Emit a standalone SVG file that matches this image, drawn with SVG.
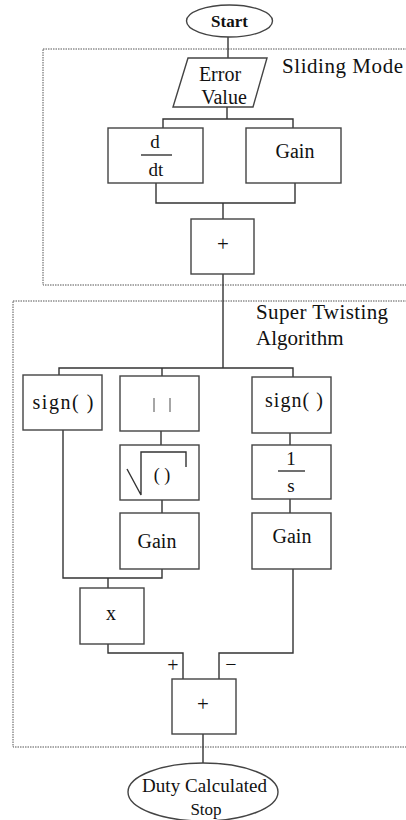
<svg xmlns="http://www.w3.org/2000/svg" width="406" height="820" viewBox="0 0 406 820">
<style>
.bg{fill:#fff}
.box{fill:#fff;stroke:#444;stroke-width:1.4}
.frame{fill:none;stroke:#555;stroke-width:1;stroke-dasharray:1.5 1}
.ln{fill:none;stroke:#333;stroke-width:1.4}
.t{font-family:"Liberation Serif","Times New Roman",serif;fill:#111;text-anchor:middle}
.tl{font-family:"Liberation Serif","Times New Roman",serif;fill:#111}
.g{fill:none;stroke:#777;stroke-width:1.3}
</style>
<rect class="bg" x="0" y="0" width="406" height="820"/>
<g id="frames">
<rect class="frame" x="43" y="49" width="380" height="236"/>
<rect class="frame" x="13" y="301" width="410" height="446"/>
<text class="tl" x="282" y="73" font-size="21" textLength="121">Sliding Mode</text>
<text class="tl" x="256" y="319" font-size="21" textLength="132">Super Twisting</text>
<text class="tl" x="256" y="345" font-size="21">Algorithm</text>
</g>
<g id="connectors">
<path class="ln" d="M228 37V58"/>
<path class="ln" d="M227 107V119M163 128V119H293V128"/>
<path class="ln" d="M156 183V203H295V183M223 203V219"/>
<path class="ln" d="M223 274V368M59 375V368H293V377M162 368V376"/>
<path class="ln" d="M161 431V445M162 500V513M290 433V445M290 499V513"/>
<path class="ln" d="M63 430V578H162V569M108 578V588"/>
<path class="ln" d="M108 644V653H183V679M293 569V653H219V679"/>
<path class="ln" d="M203 734V763"/>
<text class="t" x="173" y="672" font-size="20">+</text>
<text class="t" x="231" y="671" font-size="20">−</text>
</g>
<g id="start">
<ellipse class="box" cx="229.5" cy="21" rx="43" ry="16"/>
<text class="t" x="229.5" y="27" font-size="17" font-weight="bold">Start</text>
</g>
<g id="error">
<polygon class="box" points="188,58 267,58 253,107 173,107"/>
<text class="t" x="220" y="81" font-size="20">Error</text>
<text class="t" x="224" y="104" font-size="20">Value</text>
</g>
<g id="ddt">
<rect class="box" x="108" y="128" width="95" height="55"/>
<text class="t" x="155" y="148" font-size="19">d</text>
<path class="ln" d="M141 155H172"/>
<text class="t" x="156" y="176" font-size="19">dt</text>
</g>
<g id="gain1">
<rect class="box" x="246" y="128" width="95" height="55"/>
<text class="t" x="295" y="158" font-size="20">Gain</text>
</g>
<g id="sum1">
<rect class="box" x="191" y="219" width="63" height="55"/>
<text class="t" x="223" y="251" font-size="21">+</text>
</g>
<g id="sign1">
<rect class="box" x="23" y="375" width="79" height="55"/>
<text class="t" x="63" y="409" font-size="20" textLength="61">sign( )</text>
</g>
<g id="abs">
<rect class="box" x="120" y="376" width="79" height="55"/>
<path class="g" d="M154 398V412M170 398V412"/>
</g>
<g id="sign2">
<rect class="box" x="252" y="377" width="79" height="56"/>
<text class="t" x="294" y="407" font-size="20" textLength="58">sign( )</text>
</g>
<g id="sqrt">
<rect class="box" x="120" y="445" width="79" height="55"/>
<path class="ln" d="M127 469L141 495V452H186V467"/>
<text class="t" x="162" y="481" font-size="18" fill="#555">( )</text>
</g>
<g id="integ">
<rect class="box" x="252" y="445" width="79" height="54"/>
<text class="t" x="291" y="465" font-size="19">1</text>
<path class="ln" d="M278 471H305"/>
<text class="t" x="291" y="492" font-size="19">s</text>
</g>
<g id="gain2">
<rect class="box" x="120" y="513" width="79" height="56"/>
<text class="t" x="157" y="548" font-size="20">Gain</text>
</g>
<g id="gain3">
<rect class="box" x="252" y="513" width="79" height="56"/>
<text class="t" x="292" y="543" font-size="20">Gain</text>
</g>
<g id="mult">
<rect class="box" x="80" y="588" width="64" height="56"/>
<text class="t" x="111" y="620" font-size="20">x</text>
</g>
<g id="sum2">
<rect class="box" x="172" y="679" width="64" height="55"/>
<text class="t" x="203" y="711" font-size="21">+</text>
</g>
<g id="stop">
<ellipse class="box" cx="203" cy="792" rx="75" ry="29"/>
<text class="t" x="204.5" y="792" font-size="19" textLength="125">Duty Calculated</text>
<text class="t" x="206" y="815" font-size="17">Stop</text>
</g>
</svg>
